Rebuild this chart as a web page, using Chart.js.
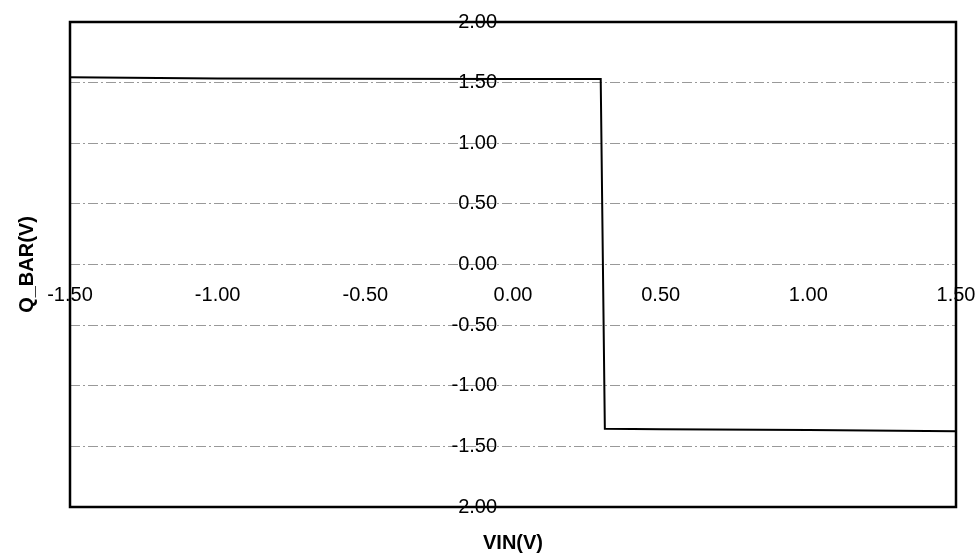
<!DOCTYPE html>
<html>
<head>
<meta charset="utf-8">
<script src="https://cdn.jsdelivr.net/npm/chart.js@4.4.1/dist/chart.umd.min.js"></script>
<style>
  html, body { margin: 0; padding: 0; background: #fff; }
  #wrap { width: 980px; height: 556px; position: relative; }
</style>
</head>
<body>
<div id="wrap"><canvas id="chart"></canvas></div>
<script>
// transfer curve
const vinValues = [-1.5, -1.0, -0.5, 0.0, 0.25, 0.297, 0.311, 0.5, 1.0, 1.5];
const qbarValues = [1.545, 1.535, 1.532, 1.53, 1.53, 1.53, -1.355, -1.358, -1.365, -1.375];

const xTicks = [-1.5, -1.0, -0.5, 0.0, 0.5, 1.0, 1.5];
const yTicks = [-2.0, -1.5, -1.0, -0.5, 0.0, 0.5, 1.0, 1.5, 2.0];

const xTitle = 'VIN(V)';
const yTitle = 'Q_BAR(V)';

const points = vinValues.map((v, i) => ({ x: v, y: qbarValues[i] }));

// axes cross inside the plot, so drop the edge padding they ask for
function noEdgePadding(scale) {
  scale.paddingLeft = 0;
  scale.paddingRight = 0;
  scale.paddingTop = 0;
  scale.paddingBottom = 0;
}

// black frame round the plot area
const framePlugin = {
  id: 'frame',
  afterDraw(chart) {
    const { ctx, chartArea: a } = chart;
    ctx.save();
    ctx.strokeStyle = '#000';
    ctx.lineWidth = 2.5;
    ctx.strokeRect(a.left, a.top, a.right - a.left, a.bottom - a.top);
    ctx.restore();
  }
};

const titlePlugin = {
  id: 'axisTitles',
  afterDraw(chart) {
    const { ctx, chartArea: a } = chart;
    ctx.save();
    ctx.fillStyle = '#000';
    ctx.font = 'bold 20px "Liberation Sans"';
    ctx.textAlign = 'center';
    ctx.textBaseline = 'middle';
    ctx.fillText(xTitle, (a.left + a.right) / 2, 543);
    ctx.translate(27, (a.top + a.bottom) / 2);
    ctx.rotate(-Math.PI / 2);
    ctx.fillText(yTitle, 0, 0);
    ctx.restore();
  }
};

new Chart(document.getElementById('chart'), {
  type: 'scatter',
  data: {
    datasets: [{
      label: yTitle,
      data: points,
      showLine: true,
      borderColor: '#000',
      borderWidth: 2,
      pointRadius: 0,
      tension: 0
    }]
  },
  options: {
    responsive: true,
    maintainAspectRatio: false,
    animation: false,
    layout: { padding: { left: 70, top: 22, right: 24, bottom: 49 } },
    plugins: {
      legend: { display: false },
      tooltip: { enabled: false }
    },
    scales: {
      x: {
        type: 'linear',
        position: { y: 0 },
        min: -1.5,
        max: 1.5,
        afterBuildTicks: s => { s.ticks = xTicks.map(v => ({ value: v })); },
        afterFit: noEdgePadding,
        ticks: {
          color: '#000',
          padding: 11,
          font: { family: 'Liberation Sans', size: 20 },
          callback: v => Number(v).toFixed(2)
        },
        grid: { display: false },
        border: { display: false }
      },
      y: {
        type: 'linear',
        // labels sit just left of VIN = 0
        position: { x: -0.054 },
        min: -2,
        max: 2,
        afterBuildTicks: s => { s.ticks = yTicks.map(v => ({ value: v })); },
        afterFit: noEdgePadding,
        ticks: {
          color: '#000',
          font: { family: 'Liberation Sans', size: 20 },
          callback: v => Number(v).toFixed(2)
        },
        grid: { color: '#999', lineWidth: 1, drawTicks: false },
        border: { display: false, dash: [10, 3, 2, 3] }
      }
    }
  },
  plugins: [framePlugin, titlePlugin]
});
</script>
</body>
</html>
